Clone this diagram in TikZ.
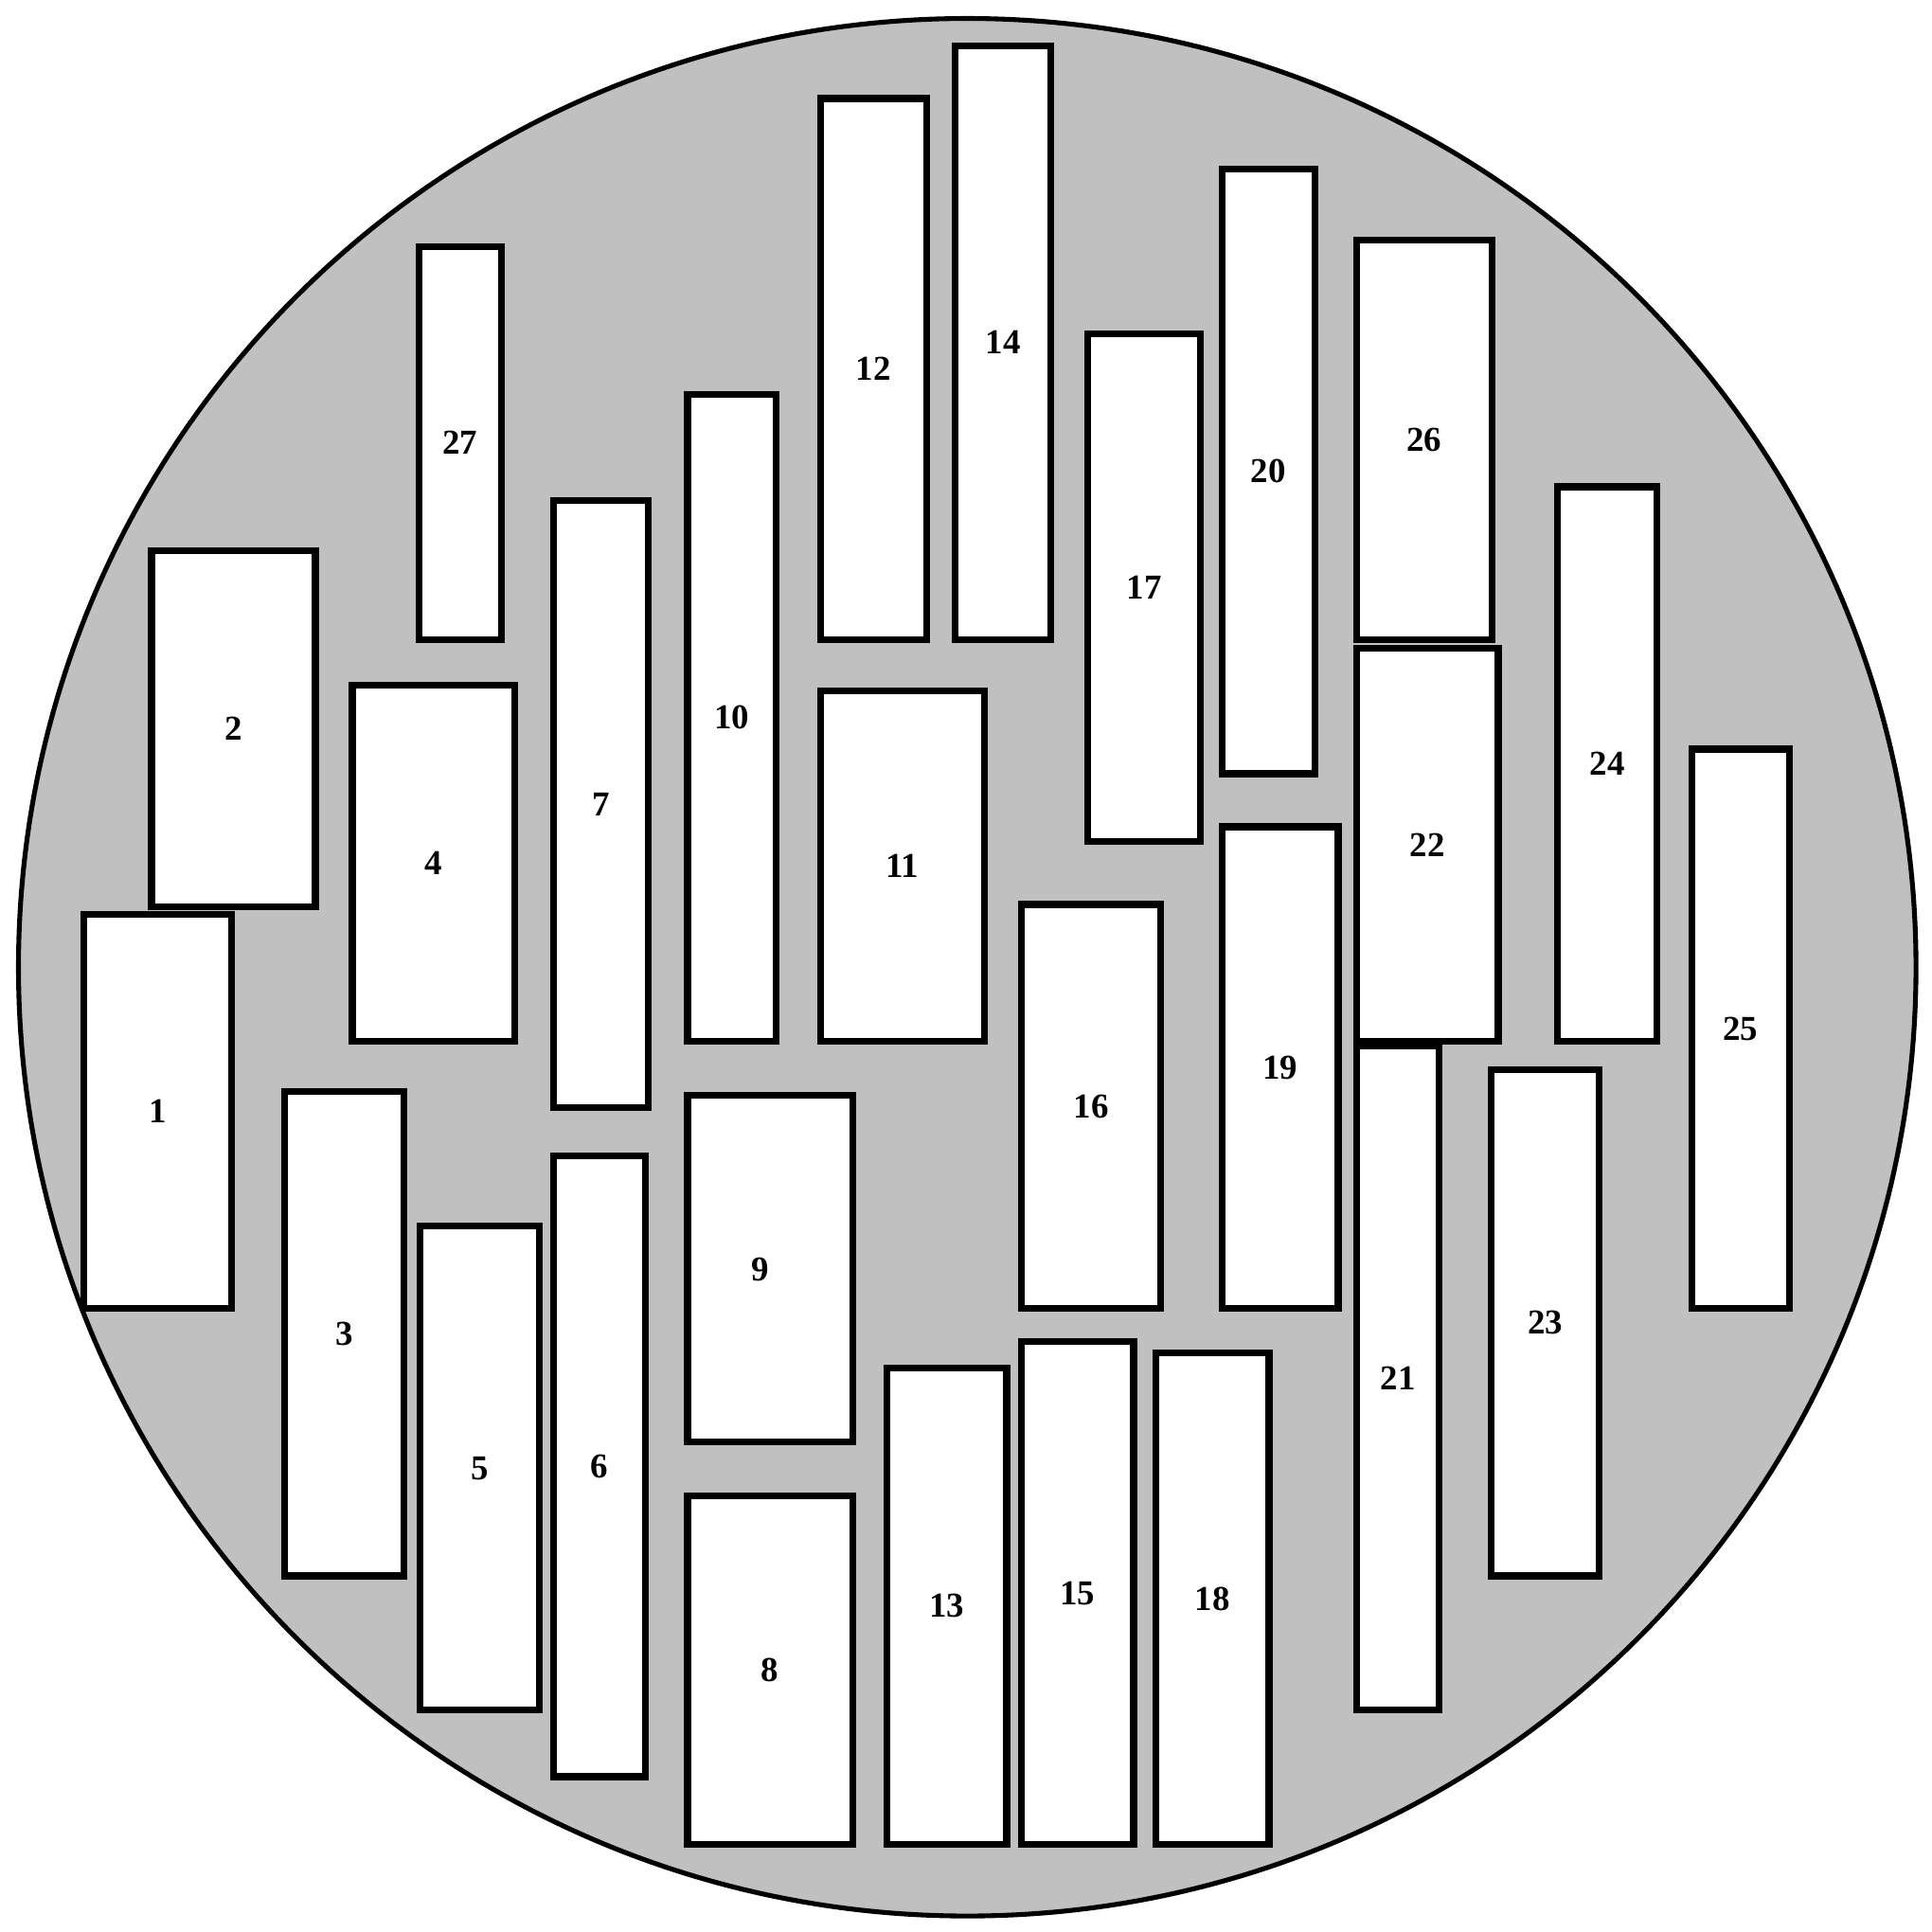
\documentclass[tikz,border=0pt]{standalone}
\usepackage{fontspec}
\setmainfont{Liberation Serif}
\definecolor{bggray}{RGB}{192,192,192}
\tikzset{
  boxst/.style={draw=black, fill=white, line width=2.05pt},
  lbl/.style={font=\fontsize{10.5}{12}\selectfont\bfseries, inner sep=0pt},
}
\newcommand\fusebox[5]{%
  \draw[boxst] (#1,#2) rectangle (#3,#4);
  \node[lbl] (b#5) at ({(#1+#3)/2},{(#2+#4)/2}) {#5};}
\begin{document}
\begin{tikzpicture}[x=0.013010cm,y=-0.013010cm]
\useasboundingbox (0,0) rectangle (1568,1568);
\draw[fill=bggray, line width=1.45pt] (785,785) circle[radius=770];
\fusebox{68}{742}{188}{1062}{1}
\fusebox{123}{447}{256}{736}{2}
\fusebox{231}{886}{328}{1279}{3}
\fusebox{286}{556}{418}{845}{4}
\fusebox{341}{995}{438}{1388}{5}
\fusebox{449}{938}{524}{1442}{6}
\fusebox{449}{406}{526}{899}{7}
\fusebox{558}{1214}{692}{1497}{8}
\draw[boxst] (558,889) rectangle (692,1170);
\node[lbl] (b9) at (617,1030) {9};
\fusebox{558}{320}{630}{845}{10}
\fusebox{666}{561}{799}{845}{11}
\fusebox{666}{80}{752}{519}{12}
\fusebox{720}{1110}{817}{1497}{13}
\fusebox{775}{37}{853}{519}{14}
\fusebox{829}{1089}{920}{1497}{15}
\fusebox{829}{734}{942}{1062}{16}
\fusebox{883}{271}{974}{683}{17}
\fusebox{938}{1098}{1030}{1497}{18}
\fusebox{992}{671}{1086}{1062}{19}
\fusebox{992}{137}{1067}{628}{20}
\fusebox{1101}{849}{1168}{1388}{21}
\fusebox{1101}{526}{1216}{845}{22}
\fusebox{1210}{868}{1298}{1279}{23}
\fusebox{1264}{395}{1345}{845}{24}
\fusebox{1373}{608}{1452}{1062}{25}
\fusebox{1101}{195}{1211}{519}{26}
\fusebox{340}{200}{407}{519}{27}
\end{tikzpicture}
\end{document}
